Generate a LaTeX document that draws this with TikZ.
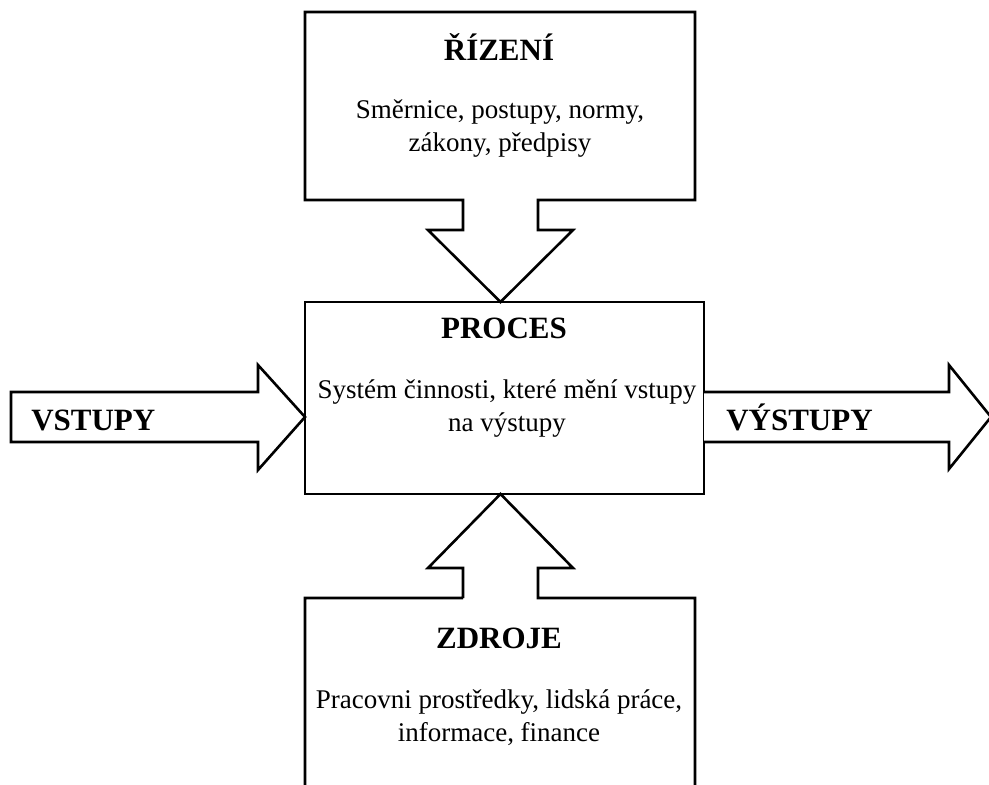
\documentclass[tikz,border=0pt]{standalone}
\usepackage{fontspec}
\setmainfont{Liberation Serif}
\begin{document}
\begin{tikzpicture}[x=1pt,y=-1pt,line width=2.6pt,line join=miter,
  heading/.style={font=\fontsize{31}{36}\selectfont\bfseries,inner sep=0pt,anchor=base},
  bodytext/.style={font=\fontsize{27}{32.5}\selectfont,align=center,inner sep=0pt,anchor=base},
  blockarrow/.style={draw=black,fill=white}]
\useasboundingbox (0,0) rectangle (989,785);

% central process box
\node[draw,minimum width=399pt,minimum height=192pt,inner sep=0pt,outer sep=0pt] (proces) at (504.5,398) {};

% control box with its arrow pointing down onto the process
\coordinate (ctip) at (proces.north -| 500.5,0);
\draw[blockarrow] (463,200) -- (463,230) -- (428,230) -- (ctip) -- (573,230)
  -- (538,230) -- (538,200) -- (695,200) -- (695,12) -- (305,12) -- (305,200) -- cycle;

% resources box with its arrow pointing up into the process
\coordinate (rtip) at (proces.south -| 500.5,0);
\draw[blockarrow] (463,598) -- (463,568) -- (428,568) -- (rtip) -- (573,568)
  -- (538,568) -- (538,598) -- (695,598) -- (695,790) (305,790) -- (305,598) -- (463,598);

% input arrow
\coordinate (itip) at (proces.west |- 0,417);
\draw[blockarrow] (11,392) -- (258,392) -- (258,365) -- (itip) -- (258,470)
  -- (258,442) -- (11,442) -- cycle;

% output arrow
\coordinate (obase) at (proces.east |- 0,392);
\coordinate (obase2) at (proces.east |- 0,442);
\draw[blockarrow] (obase) -- (949,392) -- (949,365) -- (991,417) -- (949,469)
  -- (949,442) -- (obase2);

% texts (multi-line blocks are placed by the baseline of their last line)
\node[heading] (rizeni) at (499,60) {ŘÍZENÍ};
\node[bodytext] (rizenitext) at (500,151) {Směrnice, postupy, normy,\\zákony, předpisy};

\node[heading] (procestitle) at (504,338) {PROCES};
\node[bodytext] (procestext) at (507,431) {Systém činnosti, které mění vstupy\\na výstupy};

\node[heading] (zdroje) at (499,648) {ZDROJE};
\node[bodytext] (zdrojetext) at (499,741) {Pracovni prostředky, lidská práce,\\informace, finance};

\node[heading,anchor=base west] (vstupy) at (30,430) {VSTUPY};
\node[heading,anchor=base west] (vystupy) at (725,430) {VÝSTUPY};
\end{tikzpicture}
\end{document}
